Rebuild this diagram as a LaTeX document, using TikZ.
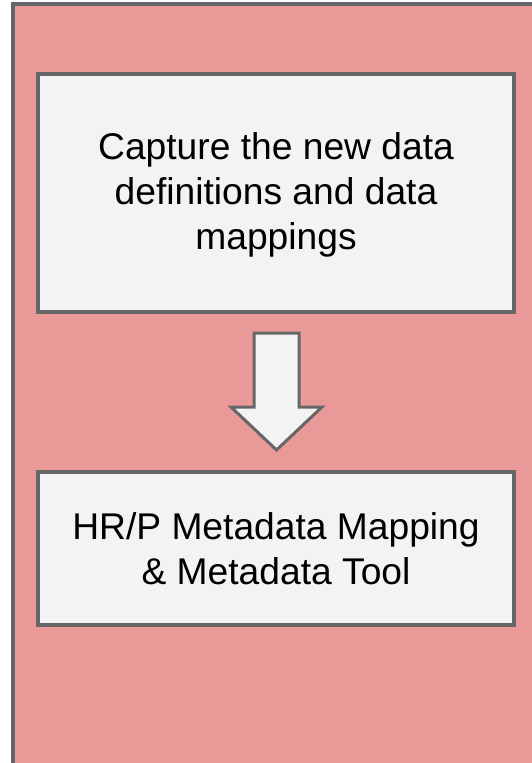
\documentclass[tikz,border=0pt]{standalone}
\usepackage{fontspec}
\setmainfont{Liberation Sans}
\definecolor{pinkbg}{HTML}{EA9999}
\definecolor{edgegray}{HTML}{666666}
\definecolor{boxfill}{HTML}{F3F3F3}
\begin{document}
\begin{tikzpicture}[x=1pt,y=-1pt,
  panel/.style={draw=edgegray,line width=4pt,fill=pinkbg},
  stepbox/.style={draw=edgegray,line width=4pt,fill=boxfill},
  boxtext/.style={align=center,font=\fontsize{37.2}{45}\selectfont,text=black,inner sep=0pt},
  arrowshape/.style={draw=edgegray,line width=3pt,fill=boxfill,line join=miter}]
\useasboundingbox (0,0) rectangle (532,763);
\draw[panel] (13,4) rectangle (545,780);
\draw[stepbox] (38,74) rectangle (514,312);
\coordinate (topbox) at (276,195);
\node[boxtext] (t1) at (topbox) {Capture the new data\\definitions and data\\mappings};
\draw[stepbox] (38,472) rectangle (514,625);
\coordinate (botbox) at (276,548.5);
\node[boxtext] (t2) at (botbox) {HR/P Metadata Mapping\\\& Metadata Tool};
\draw[arrowshape] (254,333) -- (299,333) -- (299,407) -- (322,407) -- (276.5,450) -- (231,407) -- (254,407) -- cycle;
\end{tikzpicture}
\end{document}
